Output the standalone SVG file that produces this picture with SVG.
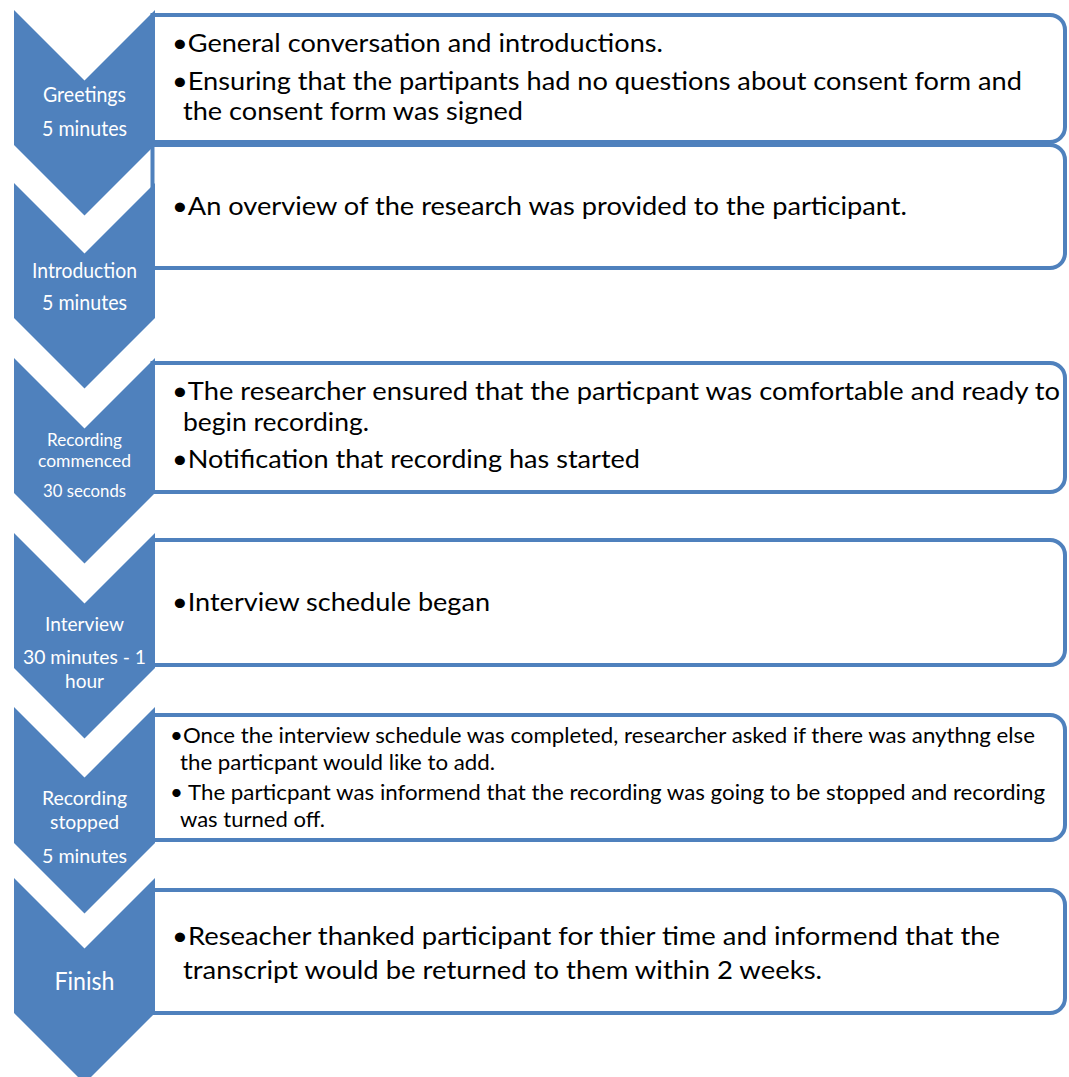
<svg xmlns="http://www.w3.org/2000/svg" width="1069" height="1077" viewBox="0 0 1069 1077">
<style>
.box{fill:#fff;stroke:#4F81BD;stroke-width:4}
.chev{fill:#4F81BD}
.t{font-family:Lato,"Liberation Sans",sans-serif;font-size:25px;fill:#000}
.s{font-family:Lato,"Liberation Sans",sans-serif;font-size:20.5px;fill:#000}
.l{font-family:Lato,"Liberation Sans",sans-serif;font-size:20px;fill:#fff;text-anchor:middle}
</style>
<rect width="1069" height="1077" fill="#fff"/>
<g id="boxes">
<g id="box1"><path class="box" d="M152.5,15 H1050 A15,15 0 0 1 1065,30 V127 A15,15 0 0 1 1050,142 H152.5 Z"/></g>
<g id="box2"><path class="box" d="M152.5,145 H1050 A15,15 0 0 1 1065,160 V253 A15,15 0 0 1 1050,268 H152.5 Z"/></g>
<g id="box3"><path class="box" d="M152.5,363 H1050 A15,15 0 0 1 1065,378 V477 A15,15 0 0 1 1050,492 H152.5 Z"/></g>
<g id="box4"><path class="box" d="M152.5,540 H1050 A15,15 0 0 1 1065,555 V650 A15,15 0 0 1 1050,665 H152.5 Z"/></g>
<g id="box5"><path class="box" d="M152.5,715 H1050 A15,15 0 0 1 1065,730 V825 A15,15 0 0 1 1050,840 H152.5 Z"/></g>
<g id="box6"><path class="box" d="M152.5,890 H1050 A15,15 0 0 1 1065,905 V998 A15,15 0 0 1 1050,1013 H152.5 Z"/></g>
</g>
<g id="box-texts">
<text class="t" x="172" y="52" textLength="491" lengthAdjust="spacingAndGlyphs">•General conversation and introductions.</text>
<text class="t" x="172" y="90" textLength="850" lengthAdjust="spacingAndGlyphs">•Ensuring that the partipants had no questions about consent form and</text>
<text class="t" x="183" y="120" textLength="340" lengthAdjust="spacingAndGlyphs">the consent form was signed</text>
<text class="t" x="172" y="215" textLength="735" lengthAdjust="spacingAndGlyphs">•An overview of the research was provided to the participant.</text>
<text class="t" x="172" y="400" textLength="888" lengthAdjust="spacingAndGlyphs">•The researcher ensured that the particpant was comfortable and ready to</text>
<text class="t" x="183" y="431" textLength="186" lengthAdjust="spacingAndGlyphs">begin recording.</text>
<text class="t" x="172" y="468" textLength="468" lengthAdjust="spacingAndGlyphs">•Notification that recording has started</text>
<text class="t" x="172" y="611" textLength="318" lengthAdjust="spacingAndGlyphs">•Interview schedule began</text>
<text class="s" x="170" y="743" textLength="865" lengthAdjust="spacingAndGlyphs">•Once the interview schedule was completed, researcher asked if there was anythng else</text>
<text class="s" x="180" y="770" textLength="315" lengthAdjust="spacingAndGlyphs">the particpant would like to add.</text>
<text class="s" x="170" y="800" textLength="875" lengthAdjust="spacingAndGlyphs">• The particpant was informend that the recording was going to be stopped and recording</text>
<text class="s" x="180" y="827" textLength="145" lengthAdjust="spacingAndGlyphs">was turned off.</text>
<text class="t" x="172" y="945" textLength="828" lengthAdjust="spacingAndGlyphs">•Reseacher thanked participant for thier time and informend that the</text>
<text class="t" x="183" y="979" textLength="639" lengthAdjust="spacingAndGlyphs">transcript would be returned to them within 2 weeks.</text>
</g>
<g id="chevron1"><path class="chev" d="M14,10 L84.5,80.5 L155,10 V145 L84.5,215.5 L14,145 Z"/>
<text class="l" x="84.5" y="102" style="font-size:21px" textLength="83" lengthAdjust="spacingAndGlyphs">Greetings</text>
<text class="l" x="84.5" y="136" style="font-size:21px" textLength="85" lengthAdjust="spacingAndGlyphs">5 minutes</text></g>
<g id="chevron2"><path class="chev" d="M14,183 L84.5,253.5 L155,183 V318 L84.5,388.5 L14,318 Z"/>
<text class="l" x="84.5" y="278" style="font-size:21px" textLength="105" lengthAdjust="spacingAndGlyphs">Introduction</text>
<text class="l" x="84.5" y="310" style="font-size:21px" textLength="85" lengthAdjust="spacingAndGlyphs">5 minutes</text></g>
<g id="chevron3"><path class="chev" d="M14,358 L84.5,428.5 L155,358 V493 L84.5,563.5 L14,493 Z"/>
<text class="l" x="84.5" y="446" style="font-size:17px" textLength="75" lengthAdjust="spacingAndGlyphs">Recording</text>
<text class="l" x="84.5" y="467" style="font-size:17px" textLength="93" lengthAdjust="spacingAndGlyphs">commenced</text>
<text class="l" x="84.5" y="497" style="font-size:17px" textLength="83" lengthAdjust="spacingAndGlyphs">30 seconds</text></g>
<g id="chevron4"><path class="chev" d="M14,533 L84.5,603.5 L155,533 V668 L84.5,738.5 L14,668 Z"/>
<text class="l" x="84.5" y="631" textLength="79" lengthAdjust="spacingAndGlyphs">Interview</text>
<text class="l" x="84.5" y="664" textLength="123" lengthAdjust="spacingAndGlyphs">30 minutes - 1</text>
<text class="l" x="84.5" y="688" textLength="39" lengthAdjust="spacingAndGlyphs">hour</text></g>
<g id="chevron5"><path class="chev" d="M14,707 L84.5,777.5 L155,707 V843 L84.5,913.5 L14,843 Z"/>
<text class="l" x="84.5" y="805" textLength="85" lengthAdjust="spacingAndGlyphs">Recording</text>
<text class="l" x="84.5" y="829" textLength="69" lengthAdjust="spacingAndGlyphs">stopped</text>
<text class="l" x="84.5" y="863" textLength="85" lengthAdjust="spacingAndGlyphs">5 minutes</text></g>
<g id="chevron6"><path class="chev" d="M14,878 L84.5,948.5 L155,878 V1013 L84.5,1083.5 L14,1013 Z"/>
<text class="l" x="84.5" y="990" style="font-size:25px" textLength="60" lengthAdjust="spacingAndGlyphs">Finish</text></g>
<g id="connectors"></g>
</svg>
